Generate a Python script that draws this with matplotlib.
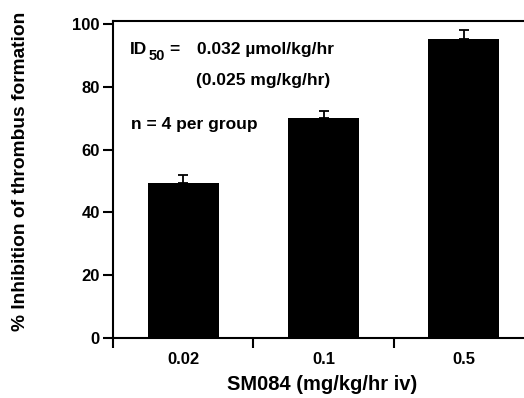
import matplotlib
matplotlib.use("Agg")
import matplotlib.pyplot as plt
from matplotlib.ticker import FixedLocator, NullFormatter, FixedFormatter

plt.rcParams['font.family'] = ['Liberation Sans', 'DejaVu Sans']
plt.rcParams['font.weight'] = 'bold'

categories = ["0.02", "0.1", "0.5"]
values = [49.5, 70.1, 95.2]
errors = [2.3, 2.1, 2.8]
yticks = [0, 20, 40, 60, 80, 100]

fig = plt.figure(figsize=(5.24, 3.98), dpi=100)
ax = fig.add_axes([113/524, 1-338/398, 421/524, (338-20.9)/398])

x = list(range(len(categories)))
ax.bar(x, values, width=0.505, color='black', zorder=2)
ax.errorbar(x, values, yerr=[[0]*len(errors), errors], fmt='none', ecolor='black',
            elinewidth=1.3, capsize=3.5, capthick=1.3, zorder=1)

ax.set_xlim(-0.5, 2.5)
ax.set_ylim(0, 101)
ax.spines['right'].set_visible(False)
for s in ['left', 'bottom', 'top']:
    ax.spines[s].set_linewidth(1.5)

ax.xaxis.set_major_locator(FixedLocator([-0.5, 0.5, 1.5, 2.5]))
ax.xaxis.set_major_formatter(NullFormatter())
ax.xaxis.set_minor_locator(FixedLocator(x))
ax.xaxis.set_minor_formatter(FixedFormatter(categories))
ax.tick_params(axis='x', which='major', direction='out', length=7.5, width=1.5)
ax.tick_params(axis='x', which='minor', length=0, pad=10, labelsize=12)
ax.set_yticks(yticks)
ax.tick_params(axis='y', direction='out', length=7.5, width=1.5, pad=2, labelsize=12)
for lab in ax.get_xticklabels(minor=True) + ax.get_yticklabels():
    lab.set_fontweight('bold')

ax.set_xlabel("SM084 (mg/kg/hr iv)", fontsize=14.5, fontweight='bold')
ax.set_ylabel("% Inhibition of thrombus formation", fontsize=13.8, fontweight='bold')
ax.xaxis.set_label_coords(0.496, -0.117)
ax.yaxis.set_label_coords(-0.200, 0.524)

fs = 12.5
def ftext(px, py, s, size=fs, va='center'):
    fig.text(px/524, 1-py/398, s, fontsize=size, fontweight='bold', va=va, ha='left')

ftext(130, 54, "ID", va='baseline')
ftext(148.5, 60, "50", size=10.5, va='baseline')
ftext(169, 54, "=", va='baseline')
ftext(197, 54, "0.032 µmol/kg/hr", va='baseline')
ftext(196, 80, "(0.025 mg/kg/hr)")
ftext(131, 125, "n = 4 per group")

fig.savefig("out.png", dpi=100)
